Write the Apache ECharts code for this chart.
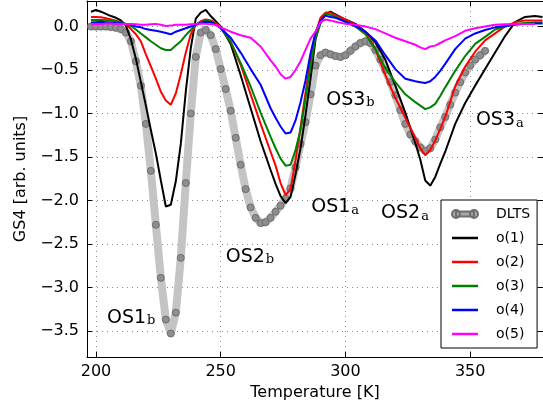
<!DOCTYPE html>
<html><head><meta charset="utf-8">
<script src="https://cdn.jsdelivr.net/npm/echarts@6/dist/echarts.min.js"></script>
<style>html,body{margin:0;padding:0;background:#fff}#c{width:543px;height:409px}</style>
</head><body><div id="c"></div>
<script>
// ---- data ----
const lineTemps = [198,200,202,204,206,208,210,212,214,216,218,220,222,224,226,228,230,232,234,236,238,240,242,244,246,248,250,254,258,262,266,270,272,274,276,278,280,282,284,286,288,290,292,294,296,300,304,308,312,316,320,324,328,330,332,334,336,338,340,344,348,352,356,360,364,368,372,376,379];
const o1 = [0.17,0.19,0.17,0.145,0.12,0.10,0.07,0.01,-0.15,-0.37,-0.64,-0.91,-1.19,-1.46,-1.77,-2.07,-2.05,-1.78,-1.35,-0.75,-0.25,0.09,0.16,0.19,0.12,0.06,0.00,-0.20,-0.56,-0.94,-1.32,-1.65,-1.81,-1.95,-2.03,-1.96,-1.70,-1.40,-1.02,-0.60,-0.15,0.06,0.14,0.17,0.14,0.08,0.03,-0.06,-0.18,-0.38,-0.68,-0.99,-1.34,-1.53,-1.77,-1.83,-1.73,-1.58,-1.44,-1.12,-0.88,-0.68,-0.49,-0.30,-0.11,0.05,0.11,0.12,0.11];
const o2 = [0.11,0.11,0.105,0.095,0.08,0.065,0.05,0.025,-0.03,-0.09,-0.17,-0.32,-0.46,-0.60,-0.75,-0.85,-0.90,-0.77,-0.55,-0.30,-0.09,0.02,0.06,0.08,0.07,0.04,0.00,-0.17,-0.44,-0.78,-1.12,-1.44,-1.60,-1.80,-1.94,-1.87,-1.54,-1.16,-0.76,-0.38,-0.08,0.10,0.16,0.16,0.13,0.08,0.02,-0.07,-0.26,-0.56,-0.82,-1.05,-1.28,-1.40,-1.48,-1.42,-1.31,-1.18,-1.04,-0.69,-0.46,-0.29,-0.16,-0.08,0.00,0.05,0.07,0.07,0.07];
const o3 = [0.075,0.075,0.075,0.073,0.07,0.06,0.045,0.03,0.005,-0.035,-0.08,-0.125,-0.17,-0.21,-0.25,-0.27,-0.27,-0.22,-0.17,-0.10,-0.04,0.02,0.05,0.07,0.06,0.03,-0.02,-0.18,-0.42,-0.69,-0.99,-1.27,-1.40,-1.52,-1.60,-1.59,-1.42,-1.19,-0.82,-0.46,-0.13,0.03,0.15,0.135,0.11,0.055,0.00,-0.09,-0.26,-0.48,-0.64,-0.78,-0.87,-0.91,-0.95,-0.93,-0.89,-0.80,-0.70,-0.51,-0.34,-0.20,-0.12,-0.035,0.00,0.03,0.04,0.045,0.045];
const o4 = [0.045,0.05,0.055,0.05,0.045,0.04,0.037,0.03,0.02,0.00,-0.01,-0.03,-0.04,-0.05,-0.06,-0.075,-0.09,-0.06,-0.04,-0.02,0.00,0.02,0.04,0.055,0.05,0.02,-0.02,-0.13,-0.30,-0.49,-0.67,-0.94,-1.05,-1.15,-1.23,-1.22,-1.08,-0.87,-0.62,-0.31,-0.07,0.07,0.125,0.11,0.10,0.055,0.005,-0.06,-0.16,-0.33,-0.49,-0.60,-0.63,-0.64,-0.65,-0.63,-0.58,-0.51,-0.43,-0.26,-0.14,-0.08,-0.04,-0.01,0.005,0.02,0.03,0.035,0.035];
const o5 = [0.03,0.03,0.03,0.035,0.035,0.03,0.03,0.03,0.03,0.025,0.02,0.02,0.025,0.03,0.02,0.005,0.01,0.02,0.02,0.02,0.025,0.03,0.035,0.03,0.025,0.02,-0.01,-0.06,-0.10,-0.13,-0.23,-0.39,-0.46,-0.55,-0.60,-0.58,-0.50,-0.40,-0.27,-0.14,-0.06,0.05,0.08,0.07,0.055,0.03,0.02,0.00,-0.03,-0.08,-0.13,-0.17,-0.21,-0.24,-0.26,-0.23,-0.22,-0.19,-0.16,-0.11,-0.05,-0.02,0.00,0.02,0.025,0.03,0.03,0.03,null];
const dltsTemps = [198,200,202,204,206,208,210,212,214,216,218,220,222,224,226,228,230,232,234,236,238,240,242,244,246,248,250,252,254,256,258,260,262,264,266,268,270,272,274,276,278,280,282,284,286,288,290,292,294,296,298,300,302,304,306,308,310,312,314,316,318,320,322,324,326,328,330,332,334,336,338,340,342,344,346,348,350,352,354,356];
const dlts = [0.00,0.00,0.00,0.00,-0.005,-0.015,-0.03,-0.07,-0.17,-0.40,-0.68,-1.12,-1.66,-2.28,-2.89,-3.37,-3.53,-3.29,-2.66,-1.80,-1.00,-0.35,-0.07,-0.04,-0.10,-0.26,-0.49,-0.72,-0.97,-1.28,-1.59,-1.87,-2.08,-2.20,-2.26,-2.25,-2.20,-2.13,-2.06,-1.98,-1.86,-1.62,-1.35,-1.10,-0.78,-0.45,-0.33,-0.30,-0.32,-0.34,-0.35,-0.33,-0.28,-0.23,-0.19,-0.17,-0.19,-0.27,-0.38,-0.50,-0.64,-0.79,-0.96,-1.12,-1.24,-1.32,-1.39,-1.43,-1.40,-1.30,-1.16,-1.04,-0.90,-0.76,-0.64,-0.53,-0.45,-0.38,-0.33,-0.28];
const seriesNames = ['DLTS','o(1)','o(2)','o(3)','o(4)','o(5)'];
const xTicks = [200,250,300,350];
const yTicks = [-3.5,-3.0,-2.5,-2.0,-1.5,-1.0,-0.5,0.0];
// annotation labels: [main, subscript, temperature, value]
const annotations = [
  ['OS1','b',204.4,-3.33],
  ['OS2','b',252.0,-2.63],
  ['OS1','a',286.3,-2.06],
  ['OS2','a',314.3,-2.13],
  ['OS3','a',352.3,-1.06],
  ['OS3','b',292.3,-0.825]
];

// ---- chart ----
const FONT = 'DejaVu Sans';
const pairs = (ts, vs) => ts.map((t, i) => [t, vs[i]]);
const fmt = v => v.toFixed(1).replace('-', '\u2212');
const lineColors = ['#000000','#ff0000','#008000','#0000ff','#ff00ff'];
const lineData = [o1,o2,o3,o4,o5];
const X0 = 196.4, X1 = 379.2, Y0 = -3.8, Y1 = 0.293;

const axisCommon = {
  type:'value',
  axisLine:{show:true, onZero:false, lineStyle:{color:'#000', width:1}},
  axisTick:{show:true, inside:true, length:5, lineStyle:{color:'#000', width:1}}
};

const series = [{
  name:'DLTS', type:'line', data:pairs(dltsTemps, dlts),
  symbol:'circle', symbolSize:7, showSymbol:true,
  lineStyle:{color:'#c4c4c4', width:8},
  itemStyle:{color:'#8e8e8e', borderColor:'#6e6e6e', borderWidth:1},
  z:2, silent:true
}];
lineData.forEach((d, i) => {
  series.push({
    name:seriesNames[i+1], type:'line', data:pairs(lineTemps, d),
    symbol:'none', lineStyle:{color:lineColors[i], width:2},
    itemStyle:{color:lineColors[i]}, z:3+i, silent:true
  });
});
series.push({
  name:'labels', type:'scatter', symbolSize:0, silent:true, z:20,
  itemStyle:{color:'#000', opacity:1},
  data:annotations.map(a => ({value:[a[2], a[3]], main:a[0], sub:a[1]})),
  label:{show:true, position:[0,0], align:'left', verticalAlign:'middle', color:'#000', opacity:1,
    formatter:p => '{m|' + p.data.main + '}{s|' + p.data.sub + '}',
    rich:{
      m:{fontSize:19, fontFamily:FONT, color:'#000', lineHeight:22, verticalAlign:'bottom'},
      s:{fontSize:13, fontFamily:'DejaVu Serif', color:'#000', lineHeight:13, verticalAlign:'bottom', padding:[0,0,0,1]}
    }
  }
});

const option = {
  animation:false,
  backgroundColor:'#fff',
  grid:{left:87, top:1, width:457, height:356},
  xAxis:[
    Object.assign({}, axisCommon, {
      position:'bottom', min:X0, max:X1,
      axisTick:Object.assign({}, axisCommon.axisTick, {customValues:xTicks}),
      axisLabel:{customValues:xTicks, color:'#000', fontSize:16, fontFamily:FONT, margin:7, formatter:v => String(v)},
      splitLine:{show:true, lineStyle:{color:'#8a8a8a', width:1, type:[1,4]}},
      name:'Temperature [K]', nameLocation:'middle', nameGap:25,
      nameTextStyle:{color:'#000', fontSize:16, fontFamily:FONT}
    }),
    Object.assign({}, axisCommon, {
      position:'top', min:X0, max:X1,
      axisTick:Object.assign({}, axisCommon.axisTick, {customValues:xTicks}),
      axisLabel:{show:false}, splitLine:{show:false}
    })
  ],
  yAxis:[
    Object.assign({}, axisCommon, {
      position:'left', min:Y0, max:Y1,
      axisTick:Object.assign({}, axisCommon.axisTick, {customValues:yTicks}),
      axisLabel:{customValues:yTicks, color:'#000', fontSize:16, fontFamily:FONT, margin:8, formatter:fmt},
      splitLine:{show:true, lineStyle:{color:'#8a8a8a', width:1, type:[1,4]}},
      name:'GS4 [arb. units]', nameLocation:'middle', nameGap:56, nameRotate:90,
      nameTextStyle:{color:'#000', fontSize:16, fontFamily:FONT}
    }),
    Object.assign({}, axisCommon, {
      position:'right', min:Y0, max:Y1,
      axisTick:Object.assign({}, axisCommon.axisTick, {customValues:yTicks}),
      axisLabel:{show:false}, splitLine:{show:false}
    })
  ],
  legend:{
    orient:'vertical', left:441, top:200, padding:[6,7,6,10],
    itemGap:8, itemWidth:26, itemHeight:10,
    backgroundColor:'#fff', borderColor:'#000', borderWidth:1, borderRadius:0,
    textStyle:{fontSize:14, fontFamily:FONT, color:'#000', lineHeight:16, padding:[0,0,0,13]},
    data:[
      {name:'DLTS', icon:'path://M4,0A4,4 0 1,1 4,8A4,4 0 1,1 4,0ZM22,0A4,4 0 1,1 22,8A4,4 0 1,1 22,0ZM4,1.5H22V6.5H4Z', itemStyle:{color:'#a8a8a8'}},
      {name:'o(1)', icon:'path://M0,0H26V2.5H0Z'},
      {name:'o(2)', icon:'path://M0,0H26V2.5H0Z'},
      {name:'o(3)', icon:'path://M0,0H26V2.5H0Z'},
      {name:'o(4)', icon:'path://M0,0H26V2.5H0Z'},
      {name:'o(5)', icon:'path://M0,0H26V2.5H0Z'}
    ],
    selectedMode:false
  },
  series:series
};
const chart = echarts.init(document.getElementById('c'), null, {renderer:'canvas'});
chart.setOption(option);
</script>
</body></html>
